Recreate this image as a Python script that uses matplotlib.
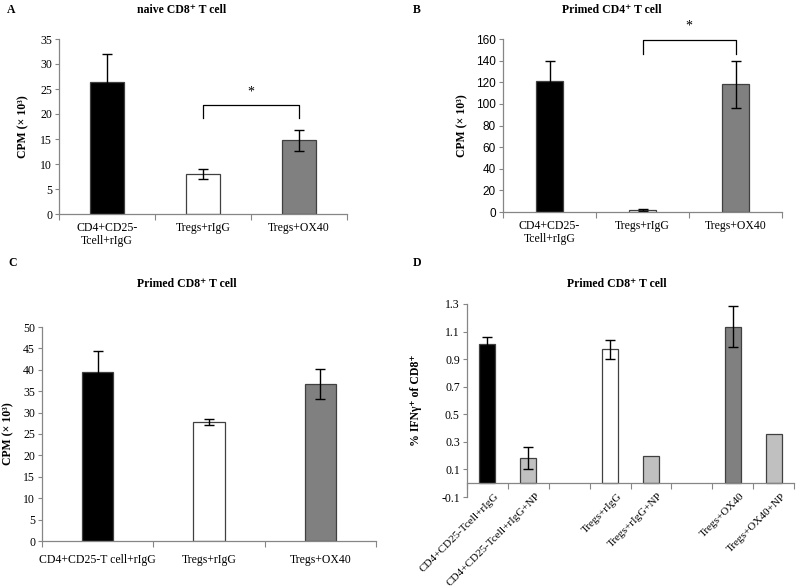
import matplotlib
matplotlib.use("Agg")
import matplotlib.pyplot as plt
import numpy as np

plt.rcParams['font.family'] = ['Liberation Serif', 'DejaVu Serif']
plt.rcParams['font.size'] = 8

# ---- data ----
cats_abc = ["CD4+CD25-\nTcell+rIgG", "Tregs+rIgG", "Tregs+OX40"]
cats_c = ["CD4+CD25-T cell+rIgG", "Tregs+rIgG", "Tregs+OX40"]
a_vals = [26.5, 8.0, 14.8]
a_errs = [5.5, 1.0, 2.1]
b_vals = [121.5, 2.0, 118.0]
b_errs = [18.5, 0.8, 22.0]
c_vals = [39.5, 27.7, 36.7]
c_errs = [5.0, 0.7, 3.5]
d_cats = ["CD4+CD25-Tcell+rIgG", "CD4+CD25-Tcell+rIgG+NP", "",
          "Tregs+rIgG", "Tregs+rIgG+NP", "",
          "Tregs+OX40", "Tregs+OX40+NP"]
d_vals = [1.01, 0.183, np.nan, 0.972, 0.198, np.nan, 1.135, 0.355]
d_errs = [0.05, 0.08, 0, 0.07, 0, 0, 0.148, 0]

abc_colors = ["#000000", "#ffffff", "#808080"]
d_colors = ["#000000", "#c0c0c0", "#ffffff", "#ffffff", "#c0c0c0", "#ffffff", "#808080", "#c0c0c0"]

W, H = 799, 587
fig = plt.figure(figsize=(W/100, H/100), dpi=100)

def px_axes(l, t, r, b):
    return fig.add_axes([l/W, 1-b/H, (r-l)/W, (b-t)/H])

spine_col = "#868686"

def style(ax, n, ylim, yticks, tickfont=None):
    ax.set_xlim(-0.5, n-0.5)
    ax.set_ylim(*ylim)
    ax.set_yticks(yticks)
    for s in ['top', 'right']:
        ax.spines[s].set_visible(False)
    for s in ['left', 'bottom']:
        ax.spines[s].set_color(spine_col)
        ax.spines[s].set_linewidth(0.9)
    ax.set_xticks(np.arange(-0.5, n, 1.0))
    ax.set_xticklabels([])
    ax.set_xticks(np.arange(n), minor=True)
    ax.tick_params(axis='x', which='major', length=4, color=spine_col, direction='out')
    ax.tick_params(axis='x', which='minor', length=0, pad=6)
    ax.tick_params(axis='y', length=3, color=spine_col, direction='out', labelsize=8.5, pad=2)
    if tickfont:
        for lab in ax.get_yticklabels():
            lab.set_family(tickfont)

ek = dict(ecolor='black', elinewidth=1, capsize=3.5, capthick=1)

# Panel A
axA = px_axes(59, 39, 347, 214)
axA.bar(range(3), a_vals, width=0.35, color=abc_colors, edgecolor='#404040', linewidth=0.9,
        yerr=a_errs, error_kw=ek)
style(axA, 3, (0, 35), np.arange(0, 36, 5))
axA.set_xticks(np.arange(3), minor=True)
axA.set_xticklabels(cats_abc, minor=True, linespacing=1.1)
axA.tick_params(axis='x', which='minor', labelsize=8.5)
axA.plot([1, 1, 2, 2], [19.2, 21.9, 21.9, 19.2], color='black', lw=0.9)
axA.text(1.5, 23.0, "*", ha='center', va='bottom', fontsize=10)
axA.set_ylabel("CPM (× 10³)", fontweight='bold', fontsize=8.5, labelpad=8)

# Panel B
axB = px_axes(503, 39, 782, 212)
axB.bar(range(3), b_vals, width=0.29, color=abc_colors, edgecolor='#404040', linewidth=0.9,
        yerr=b_errs, error_kw=ek)
style(axB, 3, (0, 160), np.arange(0, 161, 20), tickfont='Liberation Sans')
axB.set_xticklabels(cats_abc, minor=True, linespacing=1.1)
axB.tick_params(axis='x', which='minor', labelsize=8.5)
axB.plot([1, 1, 2, 2], [146, 158.8, 158.8, 146], color='black', lw=0.9, clip_on=False)
axB.text(1.5, 166, "*", ha='center', va='bottom', fontsize=10, clip_on=False)
axB.set_ylabel("CPM (× 10³)", fontweight='bold', fontsize=8.5, labelpad=6)

# Panel C
axC = px_axes(42, 327, 376, 541)
axC.bar(range(3), c_vals, width=0.28, color=abc_colors, edgecolor='#404040', linewidth=0.9,
        yerr=c_errs, error_kw=ek)
style(axC, 3, (0, 50), np.arange(0, 51, 5))
axC.set_xticklabels(cats_c, minor=True)
axC.tick_params(axis='x', which='minor', labelsize=8.5, pad=9)
axC.set_ylabel("CPM (× 10³)", fontweight='bold', fontsize=8.5, labelpad=6)

# Panel D
axD = px_axes(466.7, 304, 794.3, 497)
xd = np.arange(len(d_cats))
derr = np.array(d_errs)
mask = ~np.isnan(np.array(d_vals))
axD.bar(xd[mask], np.array(d_vals)[mask], width=0.39, color=np.array(d_colors)[mask],
        edgecolor='#404040', linewidth=0.9)
em = mask & (derr > 0)
axD.errorbar(xd[em], np.array(d_vals)[em], yerr=derr[em], fmt='none', **ek)
style(axD, len(d_cats), (-0.1, 1.3), np.round(np.arange(-0.1, 1.31, 0.2), 1))
axD.set_yticklabels([f"{v:.1f}" for v in np.arange(-0.1, 1.31, 0.2)])
axD.spines['bottom'].set_position(('data', 0))
for i, lab in enumerate(d_cats):
    if lab:
        axD.text(i + 0.18, -0.06, lab, rotation=45, ha='right', va='top',
                 rotation_mode='anchor', fontsize=8, clip_on=False)
axD.set_ylabel("% IFNγ⁺ of CD8⁺", fontweight='bold', fontsize=8.5, labelpad=14)

# titles and panel letters
fig.text(182/W, 1-10/H, "naive CD8⁺ T cell", ha='center', va='center', fontweight='bold', fontsize=8.5)
fig.text(612/W, 1-10/H, "Primed CD4⁺ T cell", ha='center', va='center', fontweight='bold', fontsize=8.5)
fig.text(187/W, 1-284/H, "Primed CD8⁺ T cell", ha='center', va='center', fontweight='bold', fontsize=8.5)
fig.text(617/W, 1-284/H, "Primed CD8⁺ T cell", ha='center', va='center', fontweight='bold', fontsize=8.5)
fig.text(11/W, 1-10/H, "A", ha='center', va='center', fontweight='bold', fontsize=8.5)
fig.text(417/W, 1-10/H, "B", ha='center', va='center', fontweight='bold', fontsize=8.5)
fig.text(13/W, 1-263/H, "C", ha='center', va='center', fontweight='bold', fontsize=8.5)
fig.text(417/W, 1-263/H, "D", ha='center', va='center', fontweight='bold', fontsize=8.5)

fig.savefig("out.png", dpi=100)
